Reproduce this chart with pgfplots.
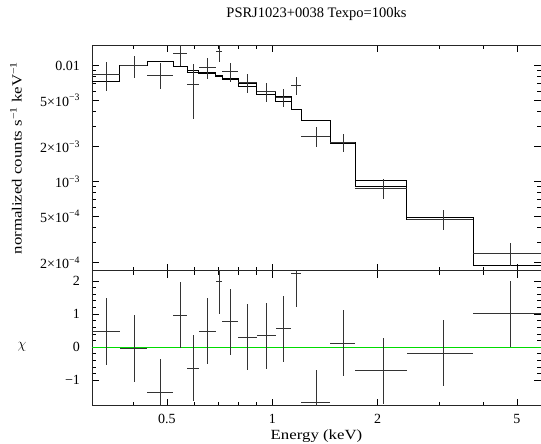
\documentclass[border=0pt]{standalone}
\usepackage{fontspec}
\setmainfont{Liberation Serif}
\newfontfamily\stretched[FakeStretch=1.2]{Liberation Serif}
\usepackage{pgfplots}
\usepackage{pgfplotstable}
\pgfplotsset{compat=1.18}
\definecolor{zeroline}{RGB}{0,220,0}

% bins: x center, half width, data, +err, -err, residual
\pgfplotstableread{
x       xe       y         yp        ym        r
0.3359  0.03055  8.40e-3   2.40e-3   2.40e-3   0.47
0.4029  0.0365   9.95e-3   2.20e-3   2.20e-3  -0.04
0.4799  0.04045  8.28e-3   2.20e-3   2.00e-3  -1.37
0.5460  0.02565  1.274e-2  2.90e-3   2.90e-3   0.96
0.5935  0.02185  6.88e-3   3.40e-3   3.40e-3  -0.64
0.6518  0.0365   9.57e-3   1.95e-3   1.95e-3   0.48
0.7040  0.0157   1.333e-2  2.50e-3   2.50e-3   1.99
0.7596  0.0399   8.84e-3   1.60e-3   1.60e-3   0.77
0.8511  0.05155  7.10e-3   1.30e-3   1.30e-3   0.30
0.9626  0.0600   5.97e-3   1.15e-3   1.15e-3   0.34
1.0768  0.0542   5.35e-3   0.97e-3   0.97e-3   0.56
1.1705  0.0395   6.73e-3   1.20e-3   1.20e-3   2.22
1.3375  0.1275   2.47e-3   0.50e-3   0.50e-3  -1.68
1.5940  0.1290   2.19e-3   0.40e-3   0.40e-3   0.12
2.0730  0.3500   8.80e-4   1.80e-4   1.80e-4  -0.71
3.0875  0.6645   4.75e-4   0.90e-4   0.90e-4  -0.18
4.8050  1.0530   2.42e-4   0.51e-4   0.57e-4   1.01
}\datatab

% model steps: left edge, model A, model B (last row = right edge)
\pgfplotstableread{
e       a         b
0.3053  8.39e-3   7.25e-3
0.3664  9.96e-3   9.96e-3
0.4394  1.079e-2  1.079e-2
0.5203  9.90e-3   9.90e-3
0.5716  9.15e-3   8.75e-3
0.6153  8.74e-3   8.56e-3
0.6883  8.25e-3   8.10e-3
0.7197  7.70e-3   7.55e-3
0.7995  7.02e-3   6.66e-3
0.9026  6.03e-3   5.68e-3
1.0226  5.38e-3   4.87e-3
1.1310  4.19e-3   4.19e-3
1.2100  3.33e-3   3.33e-3
1.4650  2.19e-3   2.15e-3
1.7230  1.016e-3  9.02e-4
2.4230  4.91e-4   4.75e-4
3.7520  2.40e-4   1.905e-4
5.8580  2.40e-4   1.905e-4
}\modtab

\begin{document}
\begin{tikzpicture}[font=\fontsize{14}{16}\selectfont]
\pgfplotsset{
  every axis/.append style={
    scale only axis, width=449pt,
    xmode=log, xmin=0.3053, xmax=5.858,
    tick align=inside, xtick pos=both, ytick pos=both,
    axis line style={line width=0.9pt, black!85},
    every tick/.style={black, line width=0.7pt},
    major tick length=7pt, minor tick length=4pt,
    xtick={0.5,1,2,5}, minor xtick={0.4,0.6,0.7,0.8,0.9,3,4},
    ticklabel style={font=\fontsize{14}{16}\selectfont},
    yticklabel style={xshift=-8.5pt},
    xticklabel style={yshift=-5pt},
    /pgf/number format/assume math mode=true,
    clip=true,
  },
}
\begin{axis}[name=top, height=225.7pt,
  ymode=log, ymin=1.70e-4, ymax=1.503e-2,
  xticklabels={},
  ytick={2e-4,5e-4,1e-3,2e-3,5e-3,1e-2},
  yticklabels={2×10\textsuperscript{−4},5×10\textsuperscript{−4},10\textsuperscript{−3},2×10\textsuperscript{−3},5×10\textsuperscript{−3},0.01},
  minor ytick={3e-4,4e-4,6e-4,7e-4,8e-4,9e-4,3e-3,4e-3,6e-3,7e-3,8e-3,9e-3},
]
\addplot[const plot, black, line width=0.8pt, mark=none] table[x=e, y=a] {\modtab};
\addplot[const plot, black, line width=0.8pt, mark=none] table[x=e, y=b] {\modtab};
\addplot[draw=none, mark=none,
  error bars/.cd, x dir=both, x explicit, y dir=both, y explicit,
  error mark=none, error bar style={draw=black!80, line width=0.8pt, solid}]
  table[x=x, y=y, x error=xe, y error plus=yp, y error minus=ym] {\datatab};
\end{axis}
\begin{axis}[name=bot, at={(top.south west)}, anchor=north west, height=135pt,
  ymin=-1.77, ymax=2.31,
  ytick={-1,0,1,2}, yticklabels={−1,0,1,2}, minor y tick num=4,
  xticklabels={0.5,1,2,5},
]
\addplot[draw=zeroline, line width=0.8pt, mark=none, solid] table[x=x, y=z] {
x z
0.3053 0
5.858 0
};
\addplot[draw=none, mark=none,
  error bars/.cd, x dir=both, x explicit, y dir=both, y fixed=1,
  error mark=none, error bar style={draw=black!80, line width=0.8pt, solid}]
  table[x=x, y=r, x error=xe] {\datatab};
\end{axis}
\node[font=\fontsize{14.5}{16}\selectfont] at ([xshift=224.5pt, yshift=31pt]top.north west) {PSRJ1023+0038 Texpo=100ks};
\node[rotate=90, font=\stretched\fontsize{14}{16}\selectfont] at ([xshift=-76pt, yshift=-113pt]top.north west) {normalized counts s\textsuperscript{−1} keV\textsuperscript{−1}};
\node at ([xshift=-70pt, yshift=-76.3pt]bot.north west) {$\chi$};
\node[font=\stretched\fontsize{14}{16}\selectfont] at ([xshift=224.5pt, yshift=-30.3pt]bot.south west) {Energy (keV)};
\pgfresetboundingbox
\path ([xshift=-92pt, yshift=45pt]top.north west) rectangle ([yshift=-38.3pt]bot.south east);
\end{tikzpicture}
\end{document}
